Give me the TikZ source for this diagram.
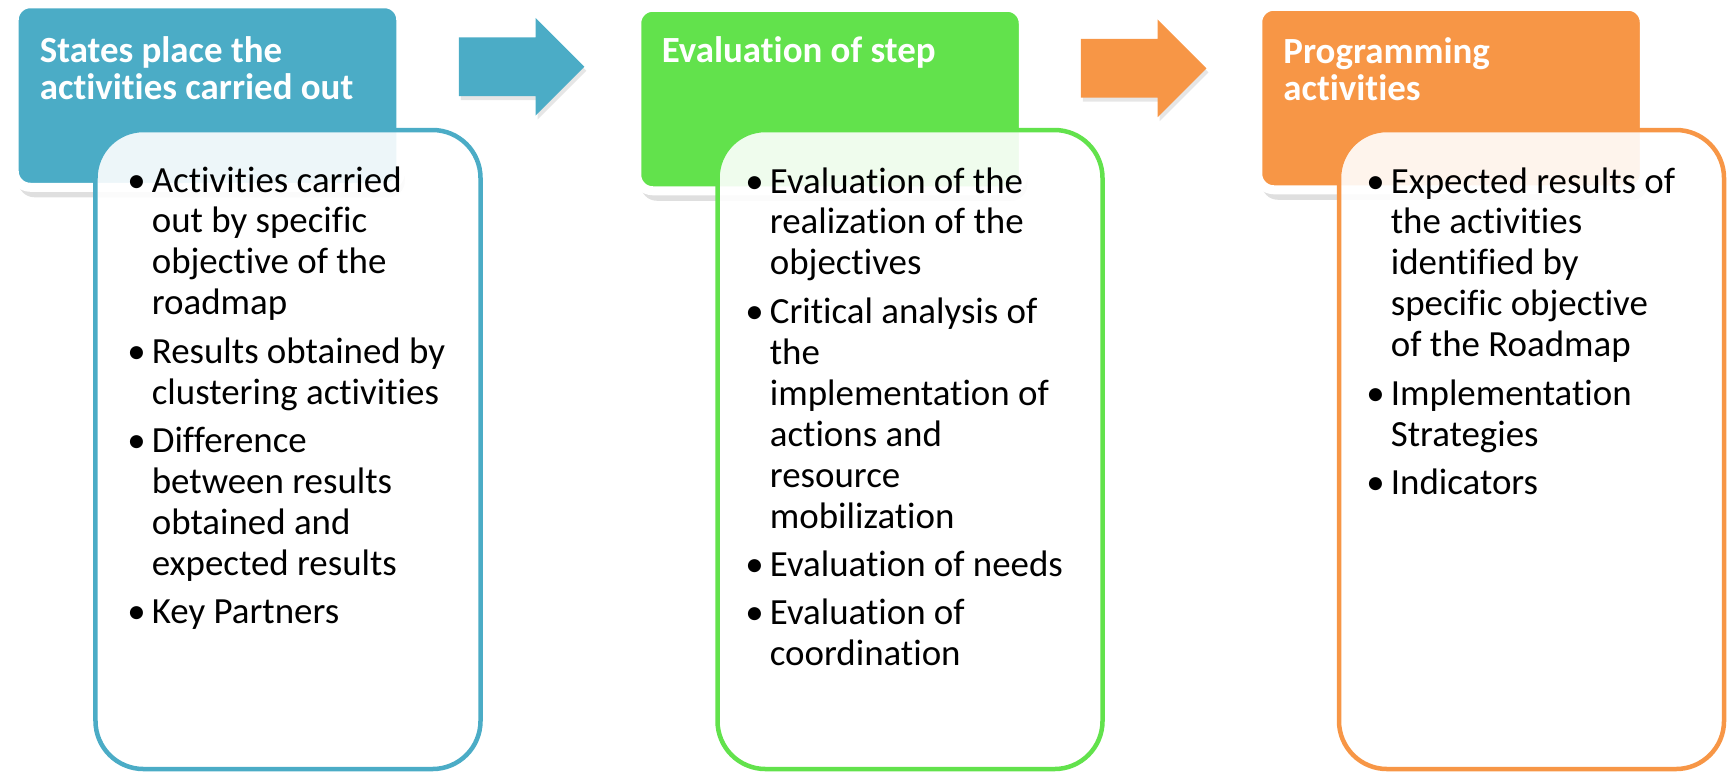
\documentclass[tikz,border=0pt]{standalone}
\usepackage{fontspec}
\setmainfont{Carlito}[Ligatures=CommonOff]
\usepackage{tikz}
\usetikzlibrary{
  positioning,
  shapes.arrows, shadows
}

\definecolor{stateblue}{HTML}{4BACC6}
\definecolor{evalgreen}{RGB}{98,226,76}
\definecolor{progorange}{HTML}{F79646}
\newcommand{\bul}{\makebox[4.9mm][l]{\textbullet}}

\begin{document}
\begin{tikzpicture}[x=0.2mm,y=-0.2mm,
    hdr/.style={rectangle,rounded corners=3.2mm,draw=white,line width=1.8mm,minimum width=77.3mm,minimum height=36.7mm,
      drop shadow={shadow xshift=0.8mm,shadow yshift=-2mm,opacity=0.25}},
    detail/.style={rectangle,rounded corners=9.6mm,fill=white,fill opacity=0.9,line width=0.9mm,minimum width=77mm,minimum height=127.8mm},
    flow/.style={single arrow,single arrow head extend=3.9mm,minimum width=19.4mm,minimum height=25.1mm,inner xsep=0,inner ysep=5.8mm,
      drop shadow={shadow xshift=0.4mm,shadow yshift=-0.8mm,opacity=0.2}},
    ttl/.style={anchor=base west,inner sep=0,text=white,font=\bfseries\fontsize{21}{21.6}\selectfont},
    txt/.style={anchor=base west,inner sep=0,font=\fontsize{21}{23.3}\selectfont}]
  \useasboundingbox (0,0) rectangle (1729,771);
  % headers
  \node at (207.5,95.5) [hdr,fill=stateblue] (h1) {};
  \node at (830,99) [hdr,fill=evalgreen] (h2) {};
  \node at (1451,98) [hdr,fill=progorange] (h3) {};
  \node at (39.5,62) [ttl] (t1) {\begin{tabular}[t]{@{}l@{}}States place the\\activities carried out\end{tabular}};
  \node at (661.5,62.7) [ttl] (t2) {\begin{tabular}[t]{@{}l@{}}Evaluation of step\end{tabular}};
  \node at (1283,63) [ttl] (t3) {\begin{tabular}[t]{@{}l@{}}Programming\\activities\end{tabular}};
  % arrows
  \node at (507,66.7) [flow,fill=stateblue] (a1) {};
  \node at (1129,68.3) [flow,fill=progorange] (a2) {};
  % lists
  \node at (288,449.5) [detail,draw=stateblue] (d1) {};
  \node at (910,449.5) [detail,draw=evalgreen] (d2) {};
  \node at (1531.5,449.5) [detail,draw=progorange] (d3) {};
  \node at (127,192) [txt] (l1) {\begin{tabular}[t]{@{}l@{}l@{}}
    \bul & Activities carried\\ & out by specific\\ & objective of the\\ & roadmap\\[1.5mm]
    \bul & Results obtained by\\ & clustering activities\\[1.5mm]
    \bul & Difference\\ & between results\\ & obtained and\\ & expected results\\[1.5mm]
    \bul & Key Partners
  \end{tabular}};
  \node at (745,193) [txt] (l2) {\begin{tabular}[t]{@{}l@{}l@{}}
    \bul & Evaluation of the\\ & realization of the\\ & objectives\\[1.5mm]
    \bul & Critical analysis of\\ & the\\ & implementation of\\ & actions and\\ & resource\\ & mobilization\\[1.5mm]
    \bul & Evaluation of needs\\[1.5mm]
    \bul & Evaluation of\\ & coordination
  \end{tabular}};
  \node at (1366,193) [txt] (l3) {\begin{tabular}[t]{@{}l@{}l@{}}
    \bul & Expected results of\\ & the activities\\ & identified by\\ & specific objective\\ & of the Roadmap\\[1.5mm]
    \bul & Implementation\\ & Strategies\\[1.5mm]
    \bul & Indicators
  \end{tabular}};
\end{tikzpicture}
\end{document}
